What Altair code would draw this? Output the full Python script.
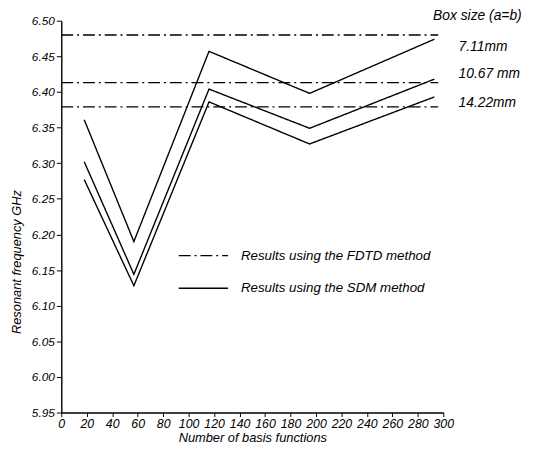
import altair as alt
import pandas as pd

# SDM results (number of basis functions vs resonant frequency) for each box size
basis = [18, 57, 116, 195, 293]
sdm_711 = [6.361, 6.190, 6.457, 6.398, 6.474]
sdm_1067 = [6.302, 6.144, 6.404, 6.349, 6.418]
sdm_1422 = [6.277, 6.128, 6.386, 6.327, 6.393]

# FDTD results (constant lines)
fdtd_x = [0, 296]
fdtd_711 = 6.480
fdtd_1067 = 6.413
fdtd_1422 = 6.379

box_labels = ["7.11mm", "10.67 mm", "14.22mm"]
methods = ["Results using the FDTD method", "Results using the SDM method"]

x_ticks = list(range(0, 301, 20))
y_ticks = [5.95, 6.00, 6.05, 6.10, 6.15, 6.20, 6.25, 6.30, 6.35, 6.40, 6.45, 6.50]

rows = []
for lab, ys in zip(box_labels, [sdm_711, sdm_1067, sdm_1422]):
    for xv, yv in zip(basis, ys):
        rows.append({"box": lab, "n": xv, "f": yv, "method": methods[1]})
for lab, yv in zip(box_labels, [fdtd_711, fdtd_1067, fdtd_1422]):
    for xv in fdtd_x:
        rows.append({"box": lab + " FDTD", "n": xv, "f": yv, "method": methods[0]})
df = pd.DataFrame(rows)

ann = pd.DataFrame({
    "n": [292, 312, 312, 312],
    "f": [6.507, 6.463, 6.425, 6.384],
    "t": ["Box size (a=b)"] + box_labels,
})

FONT = "Liberation Sans"

xscale = alt.Scale(domain=[0, 300], nice=False)
yscale = alt.Scale(domain=[5.95, 6.50], nice=False, zero=False)

xaxis = alt.Axis(values=x_ticks, title="Number of basis functions", grid=False,
                 labelOverlap=False, labelFlush=False, labelPadding=1,
                 labelSeparation=0, titlePadding=2, tickSize=4, labelFontSize=12.5)
yaxis = alt.Axis(values=y_ticks, format=".2f", title="Resonant frequency GHz",
                 grid=False, titleY=244, labelOverlap=False, labelFlush=False,
                 labelSeparation=0, tickSize=5, labelPadding=2, titlePadding=8)

xenc = alt.X("n:Q", scale=xscale, axis=xaxis)
yenc = alt.Y("f:Q", scale=yscale, axis=yaxis)

lines = alt.Chart(df).mark_line(color="black", strokeWidth=1.4).encode(
    x=xenc,
    y=yenc,
    detail="box:N",
    strokeDash=alt.StrokeDash(
        "method:N",
        scale=alt.Scale(domain=methods, range=[[12, 4, 2, 4], [1, 0]]),
        legend=alt.Legend(title=None, orient="none", legendX=118, legendY=212,
                          symbolType="stroke", symbolSize=2500, symbolStrokeWidth=1.4,
                          symbolStrokeColor="black", labelFontSize=13.5, labelFont=FONT,
                          labelFontStyle="italic", rowPadding=-7, labelOffset=12,
                          labelLimit=0),
    ),
)

texts = alt.Chart(ann).mark_text(align="left", baseline="middle", fontSize=14, font=FONT,
                                 fontStyle="italic", color="black").encode(
    x=xenc, y=yenc, text="t:N")

chart = alt.layer(lines, texts).properties(
    width=387, height=397,
    autosize=alt.AutoSizeParams(type="none"),
    padding={"left": 54, "top": 10, "right": 100, "bottom": 30},
).configure_view(stroke=None).configure_axis(
    domainColor="black", tickColor="black", labelColor="black", titleColor="black",
    labelFont=FONT, titleFont=FONT, labelFontStyle="italic", titleFontStyle="italic",
    labelFontSize=12, titleFontSize=13, titleFontWeight="normal", domainWidth=1.4,
    labelOverlap=False,
)

chart.save("out.html", embed_options={"renderer": "svg", "actions": False})
